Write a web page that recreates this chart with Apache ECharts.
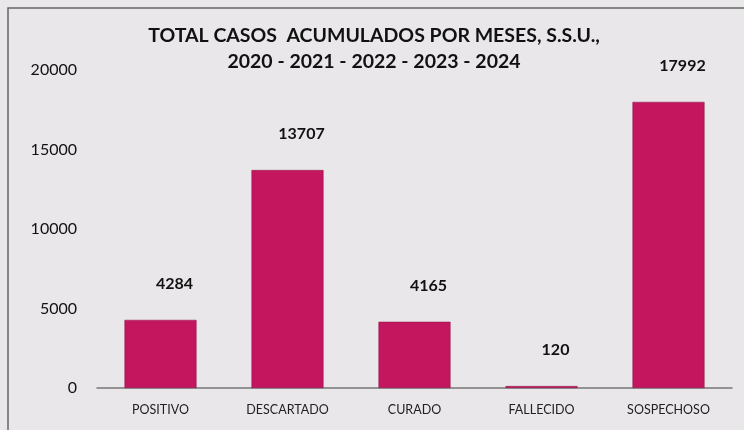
<!DOCTYPE html>
<html><head><meta charset="utf-8">
<script src="https://cdn.jsdelivr.net/npm/echarts@6/dist/echarts.min.js"></script>
<style>html,body{margin:0;padding:0;background:#e9e7ea;}#c{width:744px;height:430px;}</style>
</head><body><div id="c"></div>
<script>
const categories = ['POSITIVO','DESCARTADO','CURADO','FALLECIDO','SOSPECHOSO'];
const values = [4284, 13707, 4165, 120, 17992];
const titleLines = ['TOTAL CASOS  ACUMULADOS POR MESES, S.S.U.,', '2020 - 2021 - 2022 - 2023 - 2024'];
const chart = echarts.init(document.getElementById('c'));
chart.setOption({
  backgroundColor: '#e9e7ea',
  animation: false,
  title: {
    text: titleLines.join('\n'),
    left: 369, top: 18, textAlign: 'center',
    textStyle: {fontFamily: 'Lato', fontWeight: 'bold', fontSize: 19.5, color: '#111', lineHeight: 26}
  },
  graphic: [{type: 'rect', shape: {x: 8, y: 8, width: 760, height: 460}, style: {fill: 'none', stroke: '#666', lineWidth: 1.5}, silent: true}],
  grid: {left: 97, right: 12, top: 70, bottom: 42},
  xAxis: {
    type: 'category', data: categories,
    axisLine: {lineStyle: {color: '#777', width: 1.5}},
    axisTick: {show: false},
    axisLabel: {fontFamily: 'Lato', fontSize: 12.5, color: '#222', margin: 15}
  },
  yAxis: {
    type: 'value', min: 0, max: 20000, interval: 5000,
    splitLine: {show: false}, axisLine: {show: false}, axisTick: {show: false},
    axisLabel: {fontFamily: 'Lato', fontSize: 16, color: '#111', margin: 20, formatter: v => String(v)}
  },
  series: [{
    type: 'bar', data: values, barWidth: 72,
    itemStyle: {color: '#c4165f', borderColor: '#8a1040', borderWidth: 0.5},
    label: {show: true, position: 'top', distance: 28, offset: [14, 0], fontFamily: 'Lato', fontWeight: 'bold', fontSize: 16, color: '#111'}
  }]
});
</script></body></html>
